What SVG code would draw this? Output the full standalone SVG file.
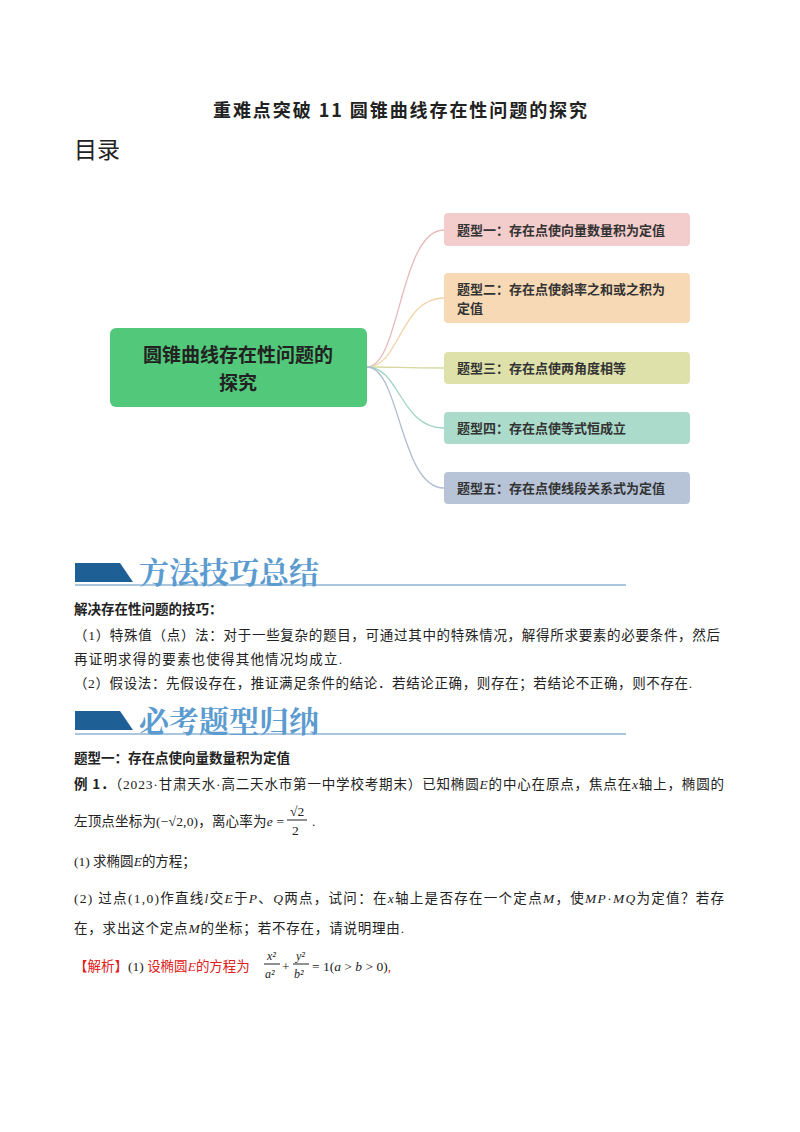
<svg xmlns="http://www.w3.org/2000/svg" width="800" height="1132" viewBox="0 0 800 1132">
<style>
.s{font-family:"Liberation Serif","Noto Sans CJK SC",serif;font-size:13.5px;fill:#222}
.b{font-family:"Noto Sans CJK SC",sans-serif;font-weight:bold;fill:#222}
.n{font-family:"Noto Sans CJK SC",sans-serif;font-weight:bold;font-size:13px;fill:#333}
.i{font-style:italic}
.c{fill:none;stroke-width:1.3}
.h{font-family:"Noto Serif CJK SC","Noto Sans CJK SC",serif;font-weight:bold;font-size:30px;fill:#5b9bd0}
</style>
<rect width="800" height="1132" fill="#fff"/>
<text x="213" y="117" class="b" style="font-size:18px" textLength="374" lengthAdjust="spacing">重难点突破 11  圆锥曲线存在性问题的探究</text>
<text x="74" y="158" class="s" style="font-family:'Noto Sans CJK SC',sans-serif;font-size:23px">目录</text>
<g id="connectors">
<path class="c" stroke="#e7b9b9" d="M367,367 C400,367 400,230 444,230"/>
<path class="c" stroke="#f1d3a8" d="M367,367 C400,367 400,298 444,298"/>
<path class="c" stroke="#d6d89c" d="M367,367 C400,367 400,368 444,368"/>
<path class="c" stroke="#9fd4c2" d="M367,367 C400,367 400,428 444,428"/>
<path class="c" stroke="#b0bdd2" d="M367,367 C400,367 400,488 444,488"/>
</g>
<g id="center"><rect x="110" y="328" width="257" height="79" rx="6" fill="#52c87a"/>
<text x="238" y="362" text-anchor="middle" class="b" style="font-size:19px">圆锥曲线存在性问题的</text>
<text x="238" y="390" text-anchor="middle" class="b" style="font-size:19px">探究</text></g>
<g id="t1"><rect x="444" y="213" width="246" height="33" rx="4" fill="#f3cccc"/><text x="457" y="235" class="n">题型一：存在点使向量数量积为定值</text></g>
<g id="t2"><rect x="444" y="273" width="246" height="50" rx="4" fill="#f8d9b6"/><text x="457" y="294" class="n">题型二：存在点使斜率之和或之积为</text><text x="457" y="313" class="n">定值</text></g>
<g id="t3"><rect x="444" y="352" width="246" height="32" rx="4" fill="#dfe1ab"/><text x="457" y="373" class="n">题型三：存在点使两角度相等</text></g>
<g id="t4"><rect x="444" y="412" width="246" height="32" rx="4" fill="#abdccb"/><text x="457" y="433" class="n">题型四：存在点使等式恒成立</text></g>
<g id="t5"><rect x="444" y="472" width="246" height="32" rx="4" fill="#b7c4d8"/><text x="457" y="493" class="n">题型五：存在点使线段关系式为定值</text></g>
<polygon points="75,563 120,563 133,582 75,582" fill="#1e5f96"/>
<line x1="75" y1="585" x2="626" y2="585" stroke="#8fb4d6" stroke-width="1.5"/>
<text x="139" y="583" class="h">方法技巧总结</text>
<text x="74" y="614" class="b" style="font-size:13.5px">解决存在性问题的技巧：</text>
<text x="74" y="640" class="s" textLength="646" lengthAdjust="spacing">（1）特殊值（点）法：对于一些复杂的题目，可通过其中的特殊情况，解得所求要素的必要条件，然后</text>
<text x="74" y="664" class="s" textLength="268" lengthAdjust="spacing">再证明求得的要素也使得其他情况均成立.</text>
<text x="74" y="688" class="s" textLength="618" lengthAdjust="spacing">（2）假设法：先假设存在，推证满足条件的结论．若结论正确，则存在；若结论不正确，则不存在.</text>
<polygon points="75,711 120,711 133,730 75,730" fill="#1e5f96"/>
<line x1="75" y1="734" x2="626" y2="734" stroke="#8fb4d6" stroke-width="1.5"/>
<text x="139" y="732" class="h">必考题型归纳</text>
<text x="74" y="763" class="b" style="font-size:13.5px">题型一：存在点使向量数量积为定值</text>
<text x="74" y="789" class="s" textLength="650" lengthAdjust="spacing"><tspan style="font-weight:bold;font-family:'Noto Sans CJK SC',sans-serif">例 1．</tspan>（2023·甘肃天水·高二天水市第一中学校考期末）已知椭圆<tspan class="i">E</tspan>的中心在原点，焦点在<tspan class="i">x</tspan>轴上，椭圆的</text>
<text x="74" y="826" class="s" textLength="210" lengthAdjust="spacing">左顶点坐标为(−√2,0)，离心率为<tspan class="i">e</tspan> =</text>
<text x="290" y="816" class="s">√2</text><line x1="287" y1="820" x2="307" y2="820" stroke="#222"/><text x="292" y="835" class="s">2</text><text x="312" y="826" class="s">.</text>
<text x="74" y="866" class="s">(1) 求椭圆<tspan class="i">E</tspan>的方程；</text>
<text x="74" y="903" class="s" textLength="650" lengthAdjust="spacing">(2) 过点(1,0)作直线<tspan class="i">l</tspan>交<tspan class="i">E</tspan>于<tspan class="i">P</tspan>、<tspan class="i">Q</tspan>两点，试问：在<tspan class="i">x</tspan>轴上是否存在一个定点<tspan class="i">M</tspan>，使<tspan class="i">MP</tspan>·<tspan class="i">MQ</tspan>为定值？若存</text>
<text x="74" y="933" class="s" textLength="330" lengthAdjust="spacing">在，求出这个定点<tspan class="i">M</tspan>的坐标；若不存在，请说明理由.</text>
<text x="74" y="971" class="s" style="fill:#e02020">【解析】<tspan fill="#222">(1)</tspan> 设椭圆<tspan class="i">E</tspan>的方程为</text>
<text x="267" y="960" class="s i" style="font-size:12px">x²</text><line x1="264" y1="964" x2="280" y2="964" stroke="#222"/><text x="265" y="978" class="s i" style="font-size:12px">a²</text>
<text x="282" y="971" class="s">+</text>
<text x="296" y="960" class="s i" style="font-size:12px">y²</text><line x1="293" y1="964" x2="309" y2="964" stroke="#222"/><text x="294" y="978" class="s i" style="font-size:12px">b²</text>
<text x="312" y="971" class="s">= 1(<tspan class="i">a</tspan> &gt; <tspan class="i">b</tspan> &gt; 0)<tspan fill="#e02020">,</tspan></text>
</svg>
